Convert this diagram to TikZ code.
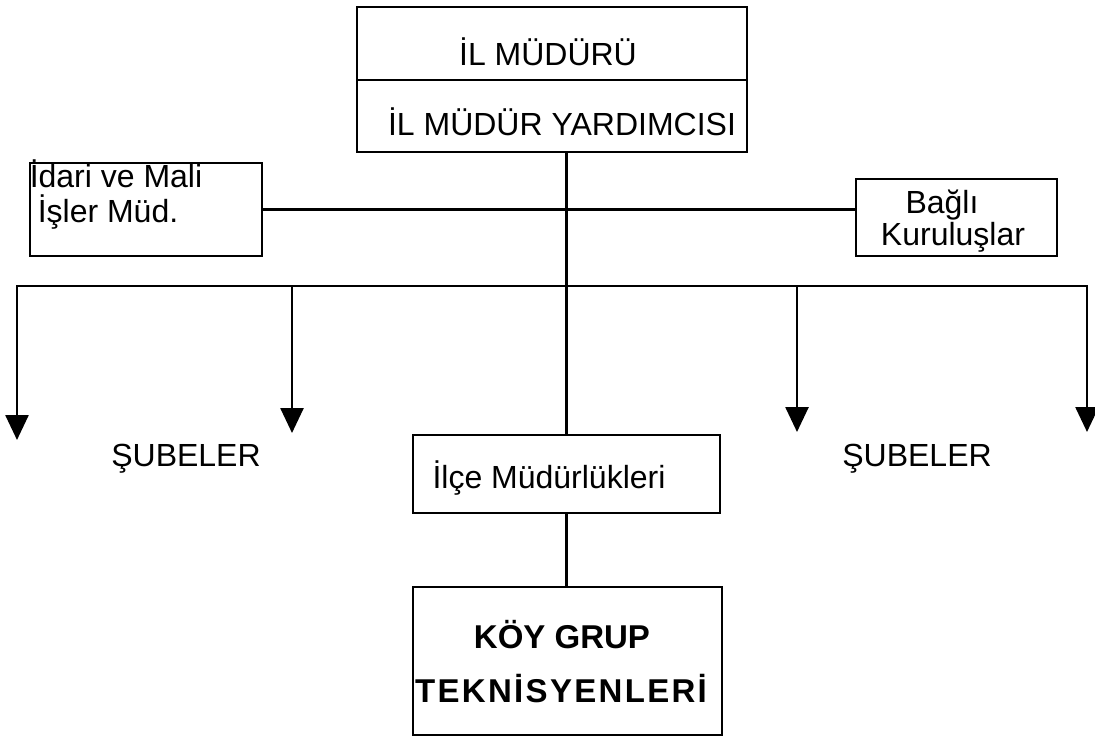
\documentclass[tikz,border=0pt]{standalone}
\usepackage{fontspec}
\setmainfont{Liberation Sans}
\usetikzlibrary{arrows.meta,fit}

\begin{document}
\begin{tikzpicture}[x=0.5pt,y=-0.5pt,
  box/.style={draw,line width=1.1pt,inner sep=0pt},
  lbl/.style={anchor=base,inner sep=0pt,font=\fontsize{16}{18}\selectfont},
  blbl/.style={lbl,font=\fontsize{16.5}{18}\selectfont\bfseries},
  link/.style={line width=1.3pt},
  tip/.style={-{Triangle[width=11.5pt,length=12.5pt]}}]
\useasboundingbox (0,0) rectangle (1095,739);
% boxes
\node[box,fit={(357,7) (747,80)}] (mudur) {};
\node[box,fit={(357,80) (747,152)}] (yard) {};
\node[box,fit={(30,163) (262,256)}] (idari) {};
\node[box,fit={(856,179) (1057,256)}] (bagli) {};
\node[box,fit={(413,435) (720,513)}] (ilce) {};
\node[box,fit={(413,587) (722,735)}] (koy) {};
% texts
\node[lbl] (mudurt) at (548,65) {İL MÜDÜRÜ};
\node[lbl] (yardt) at (562,135) {İL MÜDÜR YARDIMCISI};
\node[lbl] (idari1) at (116,187) {İdari ve Mali};
\node[lbl] (idari2) at (108,222) {İşler Müd.};
\node[lbl] (bagli1) at (942,213) {Bağlı};
\node[lbl] (bagli2) at (953,245) {Kuruluşlar};
\node[lbl] (subeL) at (186,466) {ŞUBELER};
\node[lbl] (subeR) at (917,466) {ŞUBELER};
\node[lbl] (ilcet) at (549,488) {İlçe Müdürlükleri};
\node[blbl] (koy1) at (562,648) {KÖY GRUP};
\node[blbl] (koy2) at (561,702) {\addfontfeature{LetterSpace=7}TEKNİSYENLERİ};
% branch line and arrows
\coordinate (bl) at (17,286);
\coordinate (br) at (1087,286);
\coordinate (a1) at (17,440);
\coordinate (a4) at (1087,432);
\draw[link,{Triangle[width=11.5pt,length=12.5pt]}-{Triangle[width=11.5pt,length=12.5pt]}]
  (a1) -- (bl) -- (br) -- (a4);
\foreach \x/\t in {292/433,797/432}
  \draw[link,tip] (\x,286) -- (\x,\t);
% connectors
\draw[link] (ilce.north |- yard.south) -- (ilce.north);
\draw[link] (idari.east) -- (idari.east -| bagli.west);
\draw[link] (ilce.south) -- (ilce.south |- koy.north);
\end{tikzpicture}
\end{document}
